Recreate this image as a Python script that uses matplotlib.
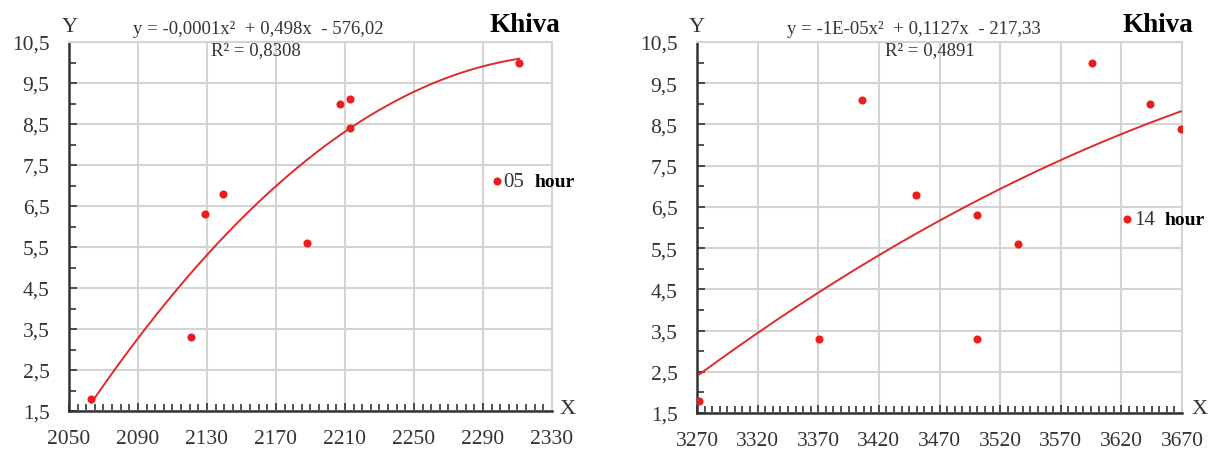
import numpy as np
import matplotlib
matplotlib.use("Agg")
import matplotlib.pyplot as plt
from matplotlib.ticker import FixedLocator, FuncFormatter

plt.rcParams['font.family'] = ['Liberation Serif', 'DejaVu Serif']

# left panel (05 hour)
x_05 = [2063, 2121, 2129, 2139, 2188, 2207, 2213, 2213, 2311]
y_05 = [1.8, 3.3, 6.3, 6.8, 5.6, 9.0, 9.1, 8.4, 10.0]
key_05 = (2298, 7.1)
eq_05 = "y = -0,0001x²  + 0,498x  - 576,02"
r2_05 = "R² = 0,8308"

# right panel (14 hour)
x_14 = [3272, 3371, 3406, 3451, 3501, 3501, 3535, 3596, 3644, 3669]
y_14 = [1.8, 3.3, 9.1, 6.8, 6.3, 3.3, 5.6, 10.0, 9.0, 8.4]
key_14 = (3625, 6.2)
eq_14 = "y = -1E-05x²  + 0,1127x  - 217,33"
r2_14 = "R² = 0,4891"

y_ticks = [1.5, 2.5, 3.5, 4.5, 5.5, 6.5, 7.5, 8.5, 9.5, 10.5]
x_ticks_05 = [2050, 2090, 2130, 2170, 2210, 2250, 2290, 2330]
x_ticks_14 = [3270, 3320, 3370, 3420, 3470, 3520, 3570, 3620, 3670]

W, H = 1213, 452
fig = plt.figure(figsize=(W / 100, H / 100), dpi=100)

RED = '#ee1c1c'
GRID = '#d4d4d4'
INK = '#333333'


def px(x, y):
    return x / W, 1 - y / H


def panel(rect, xs, ys, xticks, key, hour):
    ax = fig.add_axes(rect)
    ax.scatter(xs, ys, s=34, color=RED, zorder=4, linewidths=0)
    c = np.polyfit(xs, ys, 2)
    xx = np.linspace(min(xs), max(xs), 200)
    ax.plot(xx, np.polyval(c, xx), color='#e0292b', lw=1.4, zorder=3)
    ax.scatter([key[0]], [key[1]], s=34, color=RED, zorder=4, linewidths=0)
    ax.annotate(hour, key, xytext=(5, 0), textcoords='offset points',
                va='center', fontsize=15, color=INK)
    ax.annotate("hour", key, xytext=(27, 0), textcoords='offset points',
                va='center', fontsize=14, fontweight='bold', color='black',
                annotation_clip=False)

    step = xticks[1] - xticks[0]
    ax.set_xlim(xticks[0], xticks[-1])
    ax.set_ylim(y_ticks[0], y_ticks[-1])
    ax.xaxis.set_major_locator(FixedLocator(xticks))
    ax.xaxis.set_minor_locator(FixedLocator(np.arange(xticks[0], xticks[-1], step / 8)))
    ax.yaxis.set_major_locator(FixedLocator(y_ticks))
    ax.yaxis.set_minor_locator(FixedLocator(np.arange(2, 11, 1.0)))
    ax.yaxis.set_major_formatter(FuncFormatter(lambda v, p: f"{v:.1f}".replace('.', ',')))
    ax.grid(True, which='major', color=GRID, lw=1.5)
    ax.set_axisbelow(True)
    for s in ['top', 'right']:
        ax.spines[s].set_color(GRID)
        ax.spines[s].set_linewidth(1.5)
    for s in ['left', 'bottom']:
        ax.spines[s].set_color(INK)
        ax.spines[s].set_linewidth(1.8)
    ax.tick_params(which='both', direction='in', color=INK, width=1.2,
                   labelsize=15.5, labelcolor=INK, top=False, right=False)
    ax.tick_params(which='major', length=6)
    ax.tick_params(which='minor', length=5)
    ax.tick_params(axis='x', which='major', pad=13)
    ax.tick_params(axis='y', which='major', pad=14)
    return ax


panel([69 / W, 1 - 412 / H, (552 - 69) / W, (412 - 43) / H],
      x_05, y_05, x_ticks_05, key_05, "05")
panel([697 / W, 1 - 414 / H, (1182 - 697) / W, (414 - 43) / H],
      x_14, y_14, x_ticks_14, key_14, "14")

for (yx, eqx, r2x, kx, xx), eq, r2 in [((70, 258, 256, 525, 568), eq_05, r2_05),
                                       ((697, 914, 930, 1158, 1200), eq_14, r2_14)]:
    fig.text(*px(yx, 27), "Y", fontsize=16, color=INK, ha='center', va='center')
    fig.text(*px(eqx, 29), eq, fontsize=13.5, color=INK, ha='center', va='center')
    fig.text(*px(r2x, 51), r2, fontsize=13.5, color=INK, ha='center', va='center')
    fig.text(*px(kx, 25), "Khiva", fontsize=19.5, fontweight='bold', color='black',
             ha='center', va='center')
    fig.text(*px(xx, 410), "X", fontsize=16, color=INK, ha='center', va='center')

fig.savefig("out.png", dpi=100)
